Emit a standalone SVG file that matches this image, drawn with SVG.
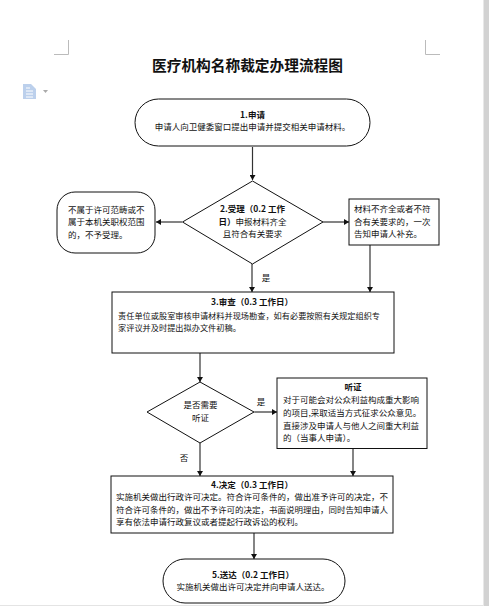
<svg xmlns="http://www.w3.org/2000/svg" width="489" height="606" viewBox="0 0 489 606">
<style>
text{font-family:"Noto Sans CJK SC","Liberation Sans",sans-serif;font-size:8.5px;fill:#111}
.b{font-weight:700}
.m{text-anchor:middle}
.s{fill:#fff;stroke:#111;stroke-width:1}
.c{fill:none;stroke:#333;stroke-width:1.2;marker-end:url(#a)}
.g{fill:none;stroke:#bbb;stroke-width:1}
</style>
<defs><marker id="a" markerUnits="userSpaceOnUse" markerWidth="6" markerHeight="6" refX="5" refY="3" orient="auto"><path d="M0 0L5 3L0 6Z" fill="#111"/></marker></defs>
<rect width="489" height="606" fill="#fff"/>
<rect x="483" width="1" height="606" fill="#e8e8e8"/>
<rect x="484" width="5" height="606" fill="#d2d2d2"/>
<rect y="605" width="483" height="1" fill="#e4e4e4"/>
<path class="g" d="M54 54.500H68.500V40M425.500 40V54.500H440"/>
<text x="247.500" y="71" class="b m" style="font-size:14.700px">医疗机构名称裁定办理流程图</text>
<path d="M23 84H31L36 89V99H23Z" fill="#bcd0ec"/>
<path d="M26 88H30M26 91H33M26 94H33M26 97H33" stroke="#fff" stroke-width="1" fill="none"/>
<path d="M43 90H48L45.500 93Z" fill="#aaa"/>
<g id="connectors">
<path class="c" d="M252.500 147V180"/>
<path class="c" d="M182 222H156"/>
<path class="c" d="M323 222H349"/>
<path class="c" d="M252 264V292"/>
<path class="c" d="M370 245V292"/>
<path class="c" d="M200 353V382"/>
<path class="c" d="M254 412H277"/>
<path class="c" d="M200 443V476"/>
<path class="c" d="M353 449V476"/>
<path class="c" d="M254 533V559"/>
</g>
<g id="n1"><rect class="s" x="135" y="99" width="235" height="47" rx="23.500"/>
<text x="252.500" y="118" class="b m">1.申请</text>
<text x="252.500" y="130" class="m">申请人向卫健委窗口提出申请并提交相关申请材料。</text></g>
<g id="n2"><path class="s" d="M252.500 181L323 222L252.500 264L182.500 222Z"/>
<text x="252.500" y="212" class="b m">2.受理&#65288;0.2 工作</text>
<text x="252.500" y="225" class="m"><tspan class="b">日&#65289;</tspan>申报材料齐全</text>
<text x="252.500" y="237" class="m">且符合有关要求</text></g>
<g id="n2a"><rect class="s" x="57" y="192" width="98" height="61" rx="18"/>
<text x="68" y="213">不属于许可范畴或不</text>
<text x="68" y="225">属于本机关职权范围</text>
<text x="68" y="238">的&#65292;不予受理。</text></g>
<g id="n2b"><rect class="s" x="349" y="199" width="90" height="46"/>
<text x="354" y="212">材料不齐全或者不符</text>
<text x="354" y="225">合有关要求的&#65292;一次</text>
<text x="354" y="237">告知申请人补充。</text></g>
<text x="266" y="281" class="m">是</text>
<g id="n3"><rect class="s" x="112" y="292" width="282" height="61"/>
<text x="252" y="305" class="b m">3.审查&#65288;0.3 工作日&#65289;</text>
<text x="118" y="319" style="font-size:8.200px">责任单位或股室审核申请材料并现场勘查&#65292;如有必要按照有关规定组织专</text>
<text x="118" y="331" style="font-size:8.200px">家评议并及时提出拟办文件初稿。</text></g>
<g id="n3a"><path class="s" d="M200 382L254 412L200 443L147 412Z"/>
<text x="200.500" y="408" class="m">是否需要</text>
<text x="200.500" y="421" class="m">听证</text></g>
<text x="261" y="405" class="m">是</text>
<text x="184" y="461" class="m">否</text>
<g id="n3b"><rect class="s" x="277" y="378" width="150" height="70.500"/>
<text x="353" y="390" class="b m">听证</text>
<text x="283" y="403">对于可能会对公众利益构成重大影响</text>
<text x="283" y="416">的项目,采取适当方式征求公众意见。</text>
<text x="283" y="429">直接涉及申请人与他人之间重大利益</text>
<text x="283" y="441">的&#65288;当事人申请&#65289;。</text></g>
<g id="n4"><rect class="s" x="111" y="476" width="282" height="57"/>
<text x="252" y="488" class="b m">4.决定&#65288;0.3 工作日&#65289;</text>
<text x="116" y="500">实施机关做出行政许可决定。符合许可条件的&#65292;做出准予许可的决定&#65292;不</text>
<text x="116" y="513">符合许可条件的&#65292;做出不予许可的决定&#65292;书面说明理由&#65292;同时告知申请人</text>
<text x="116" y="525">享有依法申请行政复议或者提起行政诉讼的权利。</text></g>
<g id="n5"><rect class="s" x="163" y="559" width="182" height="44" rx="22"/>
<text x="253" y="578" class="b m">5.送达&#65288;0.2 工作日&#65289;</text>
<text x="253" y="590" class="m">实施机关做出许可决定并向申请人送达。</text></g>
</svg>
